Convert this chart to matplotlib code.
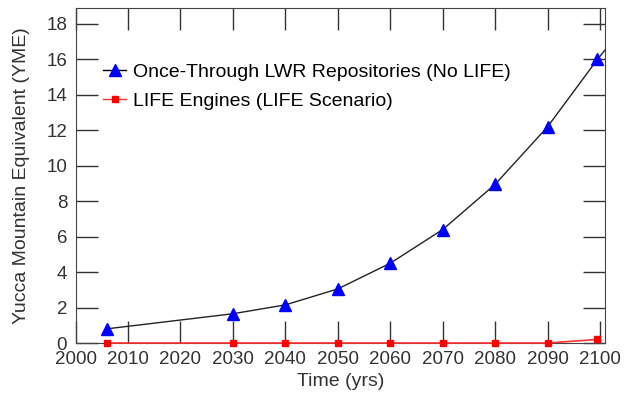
import matplotlib.pyplot as plt

plt.rcParams['font.family'] = ['Liberation Sans', 'DejaVu Sans']

# data
years = [2006, 2030, 2040, 2050, 2060, 2070, 2080, 2090, 2099.5]
lwr_yme = [0.8, 1.65, 2.15, 3.05, 4.5, 6.4, 8.95, 12.2, 16.0]
curve_years = [2006, 2030, 2040, 2050, 2060, 2070, 2080, 2090, 2099.5, 2101]
curve_yme = [0.8, 1.65, 2.15, 3.05, 4.5, 6.4, 8.95, 12.2, 16.0, 16.55]
life_years = [2006, 2030, 2040, 2050, 2060, 2070, 2080, 2090, 2099.5]
life_yme = [0.0, 0.0, 0.0, 0.0, 0.0, 0.0, 0.0, 0.0, 0.2]

fig = plt.figure(figsize=(6.24, 4.0), dpi=100)
ax = fig.add_axes([0.121, 0.1425, 0.849, 0.8375])

ax.plot(curve_years, curve_yme, color='#222222', lw=1.0, zorder=2)
ax.plot(years, lwr_yme, ls='none', marker='^', ms=9, color='blue', zorder=3)
ax.plot(life_years, life_yme, color='#ff3030', lw=1.2, marker='s', ms=5,
        mfc='red', mec='red', zorder=4, clip_on=False)

# legend proxies (line + marker)
h1, = ax.plot([], [], color='black', lw=1.0, marker='^', ms=8, mfc='blue', mec='blue')
h2, = ax.plot([], [], color='#ff3030', lw=1.0, marker='s', ms=4, mfc='red', mec='red')
ax.legend([h1, h2], ['Once-Through LWR Repositories (No LIFE)', 'LIFE Engines (LIFE Scenario)'],
          loc='upper left', bbox_to_anchor=(0.052, 0.835), frameon=False, fontsize=14,
          handlelength=1.2, handletextpad=0.35, labelspacing=0.6, borderaxespad=0,
          borderpad=0)

ax.set_xlim(2000, 2101)
ax.set_ylim(0, 18.9)
ax.set_xticks(range(2000, 2101, 10))
ax.set_yticks(range(0, 19, 2))
ax.tick_params(direction='in', length=16, width=1, labelsize=13.5, top=True, right=True,
               colors='#333333', labelcolor='#333333', pad=6)
for s in ax.spines.values():
    s.set_color('#444444')
ax.set_xlabel('Time (yrs)', fontsize=14, color='#333333', labelpad=3)
ax.set_ylabel('Yucca Mountain Equivalent (YME)', fontsize=14, color='#333333', labelpad=12)

plt.savefig('out.png', dpi=100)
